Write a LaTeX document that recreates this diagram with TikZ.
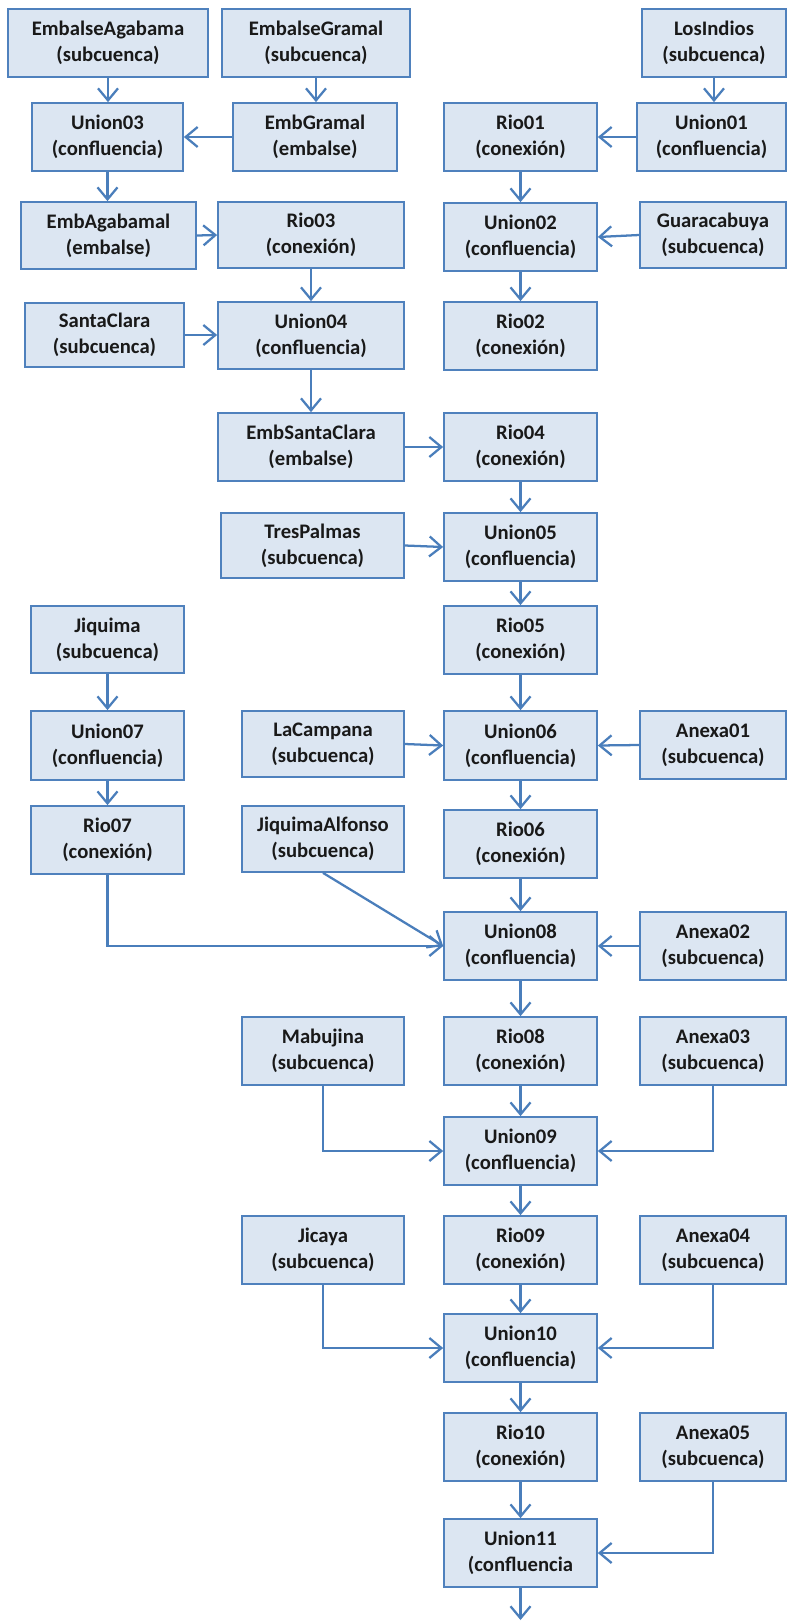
\documentclass[tikz,border=0pt]{standalone}
\usepackage{fontspec}
\setmainfont{Carlito}
\usetikzlibrary{arrows.meta}
\definecolor{boxfill}{HTML}{DCE6F2}
\definecolor{boxline}{HTML}{4F81BD}
\definecolor{arrcol}{HTML}{4A7EBB}
\tikzset{
  box/.style={draw=boxline, fill=boxfill, line width=1.3pt, inner sep=0pt, align=center,
    font=\fontsize{15.5pt}{19.3pt}\selectfont\bfseries, text=black!90},
  arr/.style={draw=arrcol, line width=1.7pt, -{Straight Barb[length=9pt,width=15pt,line width=1.7pt]}}
}
\newcommand\bx[6]{\node[box,minimum width={(#4-#2)*0.75pt},minimum height={(#5-#3)*0.75pt}] (#1) at ({(#2+#4)/2},{(#3+#5)/2}) {#6};}
\begin{document}
\begin{tikzpicture}[x=0.75pt,y=-0.75pt]
\useasboundingbox (0,0) rectangle (787,1621);
\bx{EA}{8}{9}{208}{77}{EmbalseAgabama\\(subcuenca)}
\bx{EG}{222}{9}{410}{77}{EmbalseGramal\\(subcuenca)}
\bx{LI}{642}{9}{786}{77}{LosIndios\\(subcuenca)}
\bx{U03}{32}{103}{183}{171}{Union03\\(confluencia)}
\bx{EmbG}{233}{103}{397}{171}{EmbGramal\\(embalse)}
\bx{R01}{444}{103}{597}{171}{Rio01\\(conexión)}
\bx{U01}{637}{103}{786}{171}{Union01\\(confluencia)}
\bx{EmbA}{21}{202}{196}{269}{EmbAgabamal\\(embalse)}
\bx{R03}{218}{202}{404}{268}{Rio03\\(conexión)}
\bx{U02}{444}{203}{597}{271}{Union02\\(confluencia)}
\bx{Gua}{640}{202}{786}{268}{Guaracabuya\\(subcuenca)}
\bx{SC}{25}{303}{184}{367}{SantaClara\\(subcuenca)}
\bx{U04}{218}{302}{404}{369}{Union04\\(confluencia)}
\bx{R02}{444}{302}{597}{370}{Rio02\\(conexión)}
\bx{ESC}{218}{413}{404}{481}{EmbSantaClara\\(embalse)}
\bx{R04}{444}{413}{597}{481}{Rio04\\(conexión)}
\bx{TP}{221}{513}{404}{578}{TresPalmas\\(subcuenca)}
\bx{U05}{444}{513}{597}{581}{Union05\\(confluencia)}
\bx{Jq}{31}{606}{184}{673}{Jiquima\\(subcuenca)}
\bx{R05}{444}{606}{597}{674}{Rio05\\(conexión)}
\bx{U07}{31}{711}{184}{780}{Union07\\(confluencia)}
\bx{LC}{242}{711}{404}{777}{LaCampana\\(subcuenca)}
\bx{U06}{444}{711}{597}{780}{Union06\\(confluencia)}
\bx{A01}{640}{711}{786}{779}{Anexa01\\(subcuenca)}
\bx{R07}{31}{806}{184}{874}{Rio07\\(conexión)}
\bx{JA}{242}{806}{404}{872}{JiquimaAlfonso\\(subcuenca)}
\bx{R06}{444}{810}{597}{878}{Rio06\\(conexión)}
\bx{U08}{444}{912}{597}{980}{Union08\\(confluencia)}
\bx{A02}{640}{912}{786}{980}{Anexa02\\(subcuenca)}
\bx{Mab}{242}{1017}{404}{1085}{Mabujina\\(subcuenca)}
\bx{R08}{444}{1017}{597}{1085}{Rio08\\(conexión)}
\bx{A03}{640}{1017}{786}{1085}{Anexa03\\(subcuenca)}
\bx{U09}{444}{1117}{597}{1185}{Union09\\(confluencia)}
\bx{Jic}{242}{1216}{404}{1284}{Jicaya\\(subcuenca)}
\bx{R09}{444}{1216}{597}{1284}{Rio09\\(conexión)}
\bx{A04}{640}{1216}{786}{1284}{Anexa04\\(subcuenca)}
\bx{U10}{444}{1314}{597}{1382}{Union10\\(confluencia)}
\bx{R10}{444}{1413}{597}{1481}{Rio10\\(conexión)}
\bx{A05}{640}{1413}{786}{1481}{Anexa05\\(subcuenca)}
\bx{U11}{444}{1519}{597}{1587}{Union11\\(confluencia}
\coordinate (out) at (520.5,1620);
% left branch
\draw[arr] (EA.south) -- (EA.south |- U03.north);
\draw[arr] (EG.south) -- (EG.south |- EmbG.north);
\draw[arr] (EmbG.west) -- (U03.east);
\draw[arr] (U03.south) -- (U03.south |- EmbA.north);
\draw[arr] (EmbA.east) -- (R03.west);
\draw[arr] (R03.south) -- (U04.north);
\draw[arr] (SC.east) -- (SC.east -| U04.west);
\draw[arr] (U04.south) -- (ESC.north);
\draw[arr] (ESC.east) -- (R04.west);
% right top branch
\draw[arr] (LI.south) -- (LI.south |- U01.north);
\draw[arr] (U01.west) -- (R01.east);
\draw[arr] (R01.south) -- (U02.north);
\draw[arr] (Gua.west) -- (U02.east);
\draw[arr] (U02.south) -- (R02.north);
% main stem
\draw[arr] (R04.south) -- (U05.north);
\draw[arr] (TP.east) -- (U05.west);
\draw[arr] (U05.south) -- (R05.north);
\draw[arr] (R05.south) -- (U06.north);
\draw[arr] (LC.east) -- (U06.west);
\draw[arr] (A01.west) -- (U06.east);
\draw[arr] (U06.south) -- (R06.north);
\draw[arr] (R06.south) -- (U08.north);
\draw[arr] (Jq.south) -- (U07.north);
\draw[arr] (U07.south) -- (R07.north);
\draw[arr] (R07.south) |- (U08.west);
\draw[arr] (JA.south) -- (U08.west);
\draw[arr] (A02.west) -- (U08.east);
\draw[arr] (U08.south) -- (R08.north);
\draw[arr] (R08.south) -- (U09.north);
\draw[arr] (Mab.south) |- (U09.west);
\draw[arr] (A03.south) |- (U09.east);
\draw[arr] (U09.south) -- (R09.north);
\draw[arr] (R09.south) -- (U10.north);
\draw[arr] (Jic.south) |- (U10.west);
\draw[arr] (A04.south) |- (U10.east);
\draw[arr] (U10.south) -- (R10.north);
\draw[arr] (R10.south) -- (U11.north);
\draw[arr] (A05.south) |- (U11.east);
\draw[arr] (U11.south) -- (out);
\end{tikzpicture}
\end{document}
